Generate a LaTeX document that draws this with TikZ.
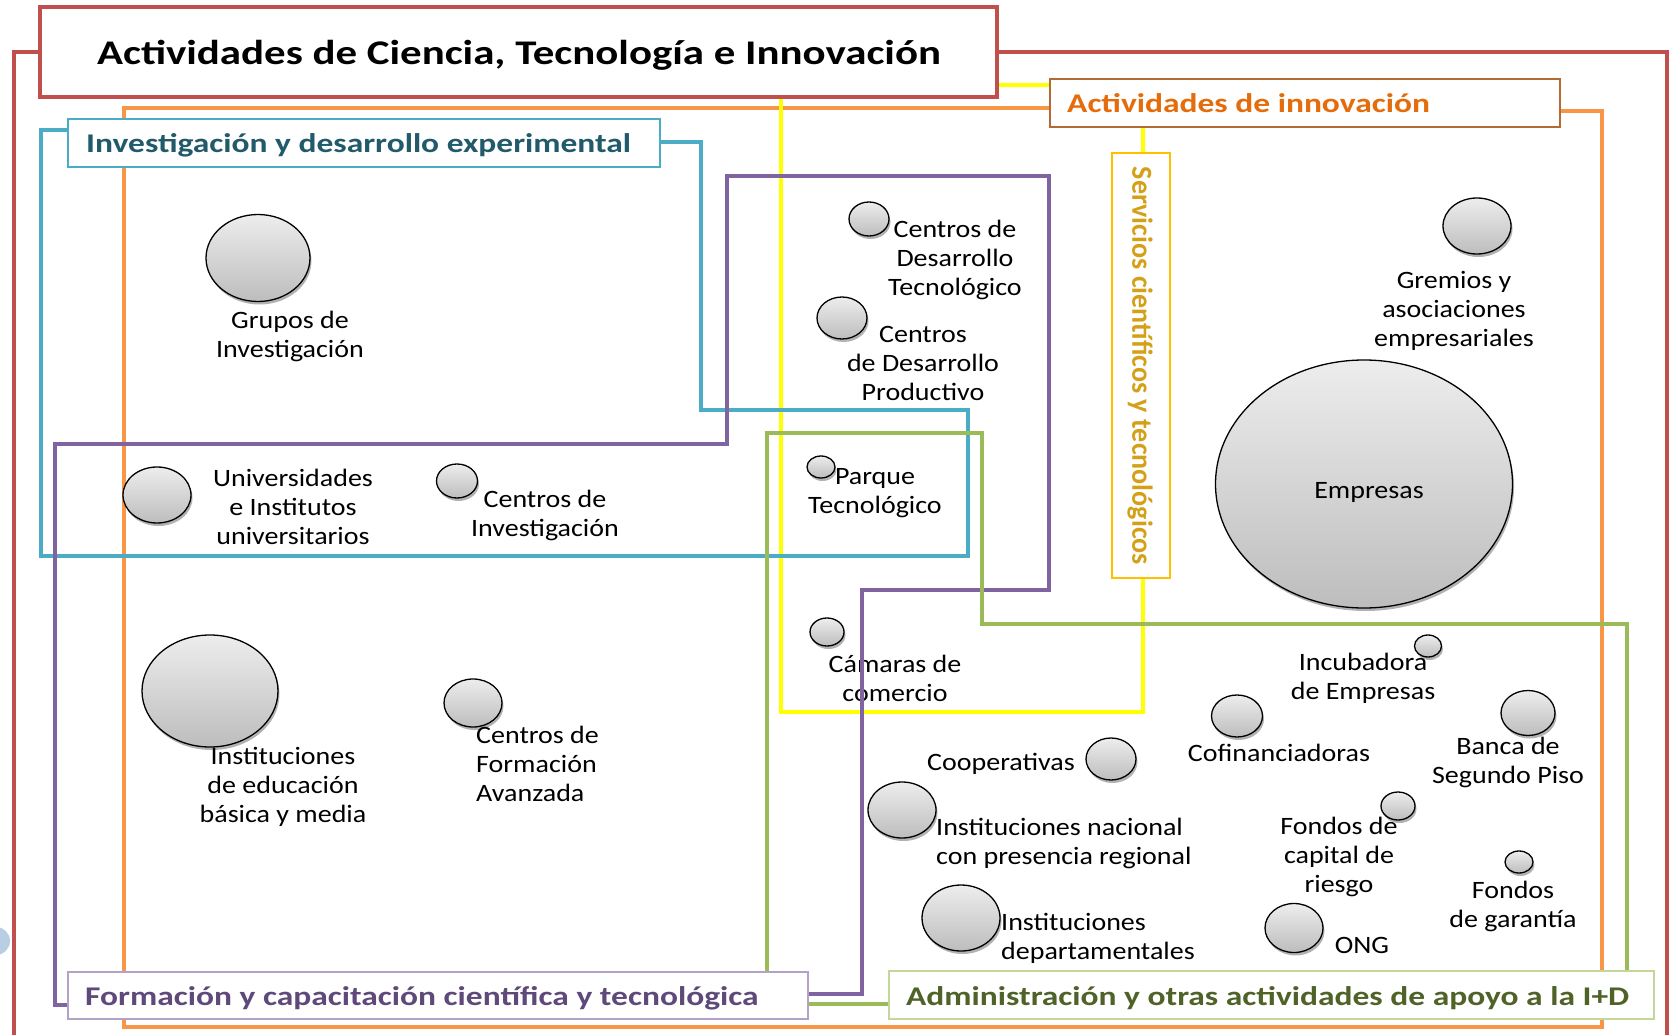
\documentclass[tikz,border=0pt]{standalone}
\usepackage{fontspec}
\setmainfont{Carlito}[FakeStretch=1.12]
\newfontfamily\titlefont{Carlito}[FakeStretch=1.24]
\newfontfamily\vertfont{Carlito}[FakeStretch=0.968]
\usetikzlibrary{shapes.geometric,shadows}
\definecolor{cred}{HTML}{C0504D}
\definecolor{corange}{HTML}{F79646}
\definecolor{cteal}{HTML}{4BACC6}
\definecolor{cpurple}{HTML}{8064A2}
\definecolor{cgreen}{HTML}{9BBB59}
\definecolor{cyellow}{HTML}{FFFF00}
\definecolor{tteal}{HTML}{215A6A}
\definecolor{torange}{HTML}{E46C0A}
\definecolor{borange}{HTML}{B46A35}
\definecolor{tpurple}{HTML}{5F497A}
\definecolor{bpurple}{HTML}{B3A2C7}
\definecolor{tgreen}{HTML}{4F6228}
\definecolor{bgreen}{HTML}{C4D79B}
\definecolor{tyellow}{HTML}{D4A017}
\definecolor{byellow}{HTML}{FFC000}
\definecolor{bubtop}{HTML}{EDEDED}
\definecolor{bubbot}{HTML}{BDBDBD}
\definecolor{lblue}{HTML}{B9CDE5}
\begin{document}
\begin{tikzpicture}[x=1pt,y=-1pt,
  frameline/.style={line width=4.5pt, line join=miter},
  bub/.style={ellipse, draw=black, line width=1.3pt, inner sep=0pt,
    top color=bubtop, bottom color=bubbot,
    drop shadow={shadow xshift=1.5pt, shadow yshift=-3pt, opacity=0.3, fill=black}},
  lbl/.style={font=\fontsize{25}{29}\selectfont, align=center, inner sep=0pt},
  lbll/.style={font=\fontsize{25}{29}\selectfont, align=left, inner sep=0pt, anchor=west},
  tagbox/.style={fill=white, line width=1.8pt, inner sep=0pt},
  tagtext/.style={font=\titlefont\bfseries\fontsize{27}{31}\selectfont, inner sep=0pt, anchor=west}
]
\useasboundingbox (0,0) rectangle (1671,1035);
\clip (0,0) rectangle (1671,1035);
\fill[white] (0,0) rectangle (1671,1035);

% partial light blue circle at left edge
\fill[lblue] (-4,941) circle (14);

% bubble texts (under frame lines)
\node[lbl] (tGrupos) at (290,336) {Grupos de\\Investigación};
\node[lbl] (tUniv) at (293,507) {Universidades\\e Institutos\\universitarios};
\node[lbl] (tCInv) at (545,515) {Centros de\\Investigación};
\node[lbl] (tIEdu) at (283,787) {Instituciones\\de educación\\básica y media};
\node[lbll] (tCFA) at (476,764) {Centros de\\Formación\\Avanzada};
\node[lbl] (tCDT) at (955,260) {Centros de\\Desarrollo\\Tecnológico};
\node[lbl] (tCDP) at (923,363) {Centros\\de Desarrollo\\Productivo};
\node[lbl] (tGrem) at (1454,311) {Gremios y\\asociaciones\\empresariales};
\node[lbl] (tParq) at (875,493) {Parque\\Tecnológico};
\node[lbl] (tCam) at (895,678) {Cámaras de\\comercio};
\node[lbl] (tInc) at (1363,678) {Incubadora\\de Empresas};
\node[lbl] (tCof) at (1279,753) {Cofinanciadoras};
\node[lbl] (tBanca) at (1508,762) {Banca de\\Segundo Piso};
\node[lbl] (tCoop) at (1001,764) {Cooperativas};
\node[lbll] (tINac) at (936,843) {Instituciones nacional\\con presencia regional};
\node[lbl] (tFCap) at (1339,857) {Fondos de\\capital de\\riesgo};
\node[lbl] (tFGar) at (1513,906) {Fondos\\de garantía};
\node[lbll] (tIDep) at (1001,938) {Instituciones\\departamentales};
\node[lbl] (tONG) at (1362,945) {ONG};

% frames
\draw[frameline, cred] (14,1100) -- (14,52) -- (1667,52) -- (1667,1100);
\draw[frameline, corange] (1050,108) -- (124,108) -- (124,1027) -- (1602,1027) -- (1602,111) -- (1560,111);
\draw[frameline, cyellow] (781,85) rectangle (1143,712);
\draw[frameline, cteal] (68,130) -- (41,130) -- (41,556) -- (968,556) -- (968,410) -- (701,410) -- (701,142) -- (660,142);
\draw[frameline, cpurple] (68,1005) -- (55,1005) -- (55,444) -- (727,444) -- (727,176) -- (1049,176) -- (1049,590) -- (862,590) -- (862,994) -- (808,994);
\draw[frameline, cgreen] (889,1004) -- (767,1004) -- (767,433) -- (982,433) -- (982,624) -- (1627,624) -- (1627,990);

% bubbles
\node[bub, minimum width=104pt, minimum height=87pt] (bGrupos) at (258,258) {};
\node[bub, minimum width=68pt, minimum height=56pt] (bUniv) at (157,495) {};
\node[bub, minimum width=41pt, minimum height=34pt] (bCInv) at (457,481) {};
\node[bub, minimum width=136pt, minimum height=112pt] (bIEdu) at (210,691) {};
\node[bub, minimum width=58pt, minimum height=48pt] (bCFA) at (473,703) {};
\node[bub, minimum width=40pt, minimum height=34pt] (bCDT) at (869,219) {};
\node[bub, minimum width=50pt, minimum height=42pt] (bCDP) at (842,318) {};
\node[bub, minimum width=68pt, minimum height=56pt] (bGrem) at (1477,226) {};
\node[bub, minimum width=297pt, minimum height=248pt] (bEmp) at (1364,484) {};
\node[bub, minimum width=28pt, minimum height=22pt] (bParq) at (821,467) {};
\node[bub, minimum width=34pt, minimum height=28pt] (bCam) at (827,632) {};
\node[bub, minimum width=27pt, minimum height=22pt] (bInc) at (1428,646) {};
\node[bub, minimum width=51pt, minimum height=42pt] (bCof) at (1237,716) {};
\node[bub, minimum width=54pt, minimum height=45pt] (bBanca) at (1528,713) {};
\node[bub, minimum width=50pt, minimum height=42pt] (bCoop) at (1111,759) {};
\node[bub, minimum width=68pt, minimum height=56pt] (bINac) at (902,810) {};
\node[bub, minimum width=34pt, minimum height=28pt] (bFCap) at (1398,806) {};
\node[bub, minimum width=28pt, minimum height=22pt] (bFGar) at (1519,862) {};
\node[bub, minimum width=78pt, minimum height=66pt] (bIDep) at (961,918) {};
\node[bub, minimum width=58pt, minimum height=49pt] (bONG) at (1294,928) {};
\node[lbl] (tEmp) at (1369,492) {Empresas};

% title box
\node[fill=white, draw=cred, line width=4pt, minimum width=957pt, minimum height=90pt, inner sep=0pt] (title) at (518.5,52) {};
\node[font=\titlefont\bfseries\fontsize{34.6}{40}\selectfont, inner sep=0pt] (titletext) at (519,55) {Actividades de Ciencia, Tecnología e Innovación};

% tag boxes
\node[tagbox, draw=cteal, minimum width=592pt, minimum height=48pt] (tealbox) at (364,143) {};
\node[tagtext, text=tteal] (tealtext) at (86,145) {Investigación y desarrollo experimental};

\node[tagbox, draw=borange, minimum width=510pt, minimum height=48pt] (orangebox) at (1305,103) {};
\node[tagtext, text=torange] (orangetext) at (1067,103) {Actividades de innovación};

\node[tagbox, draw=byellow, minimum width=58pt, minimum height=425pt] (yellowbox) at (1141,365.5) {};
\node[font=\vertfont\bfseries\fontsize{29}{33}\selectfont, text=tyellow, rotate=-90, inner sep=0pt] (yellowtext) at (1140,366) {Servicios científicos y tecnológicos};

\node[tagbox, draw=bpurple, minimum width=740pt, minimum height=47pt] (purplebox) at (438,995.5) {};
\node[tagtext, text=tpurple] (purpletext) at (85,998) {Formación y capacitación científica y tecnológica};

\node[tagbox, draw=bgreen, minimum width=765pt, minimum height=48pt] (greenbox) at (1271.5,995) {};
\node[tagtext, text=tgreen] (greentext) at (906,998) {Administración y otras actividades de apoyo a la I+D};
\end{tikzpicture}
\end{document}
